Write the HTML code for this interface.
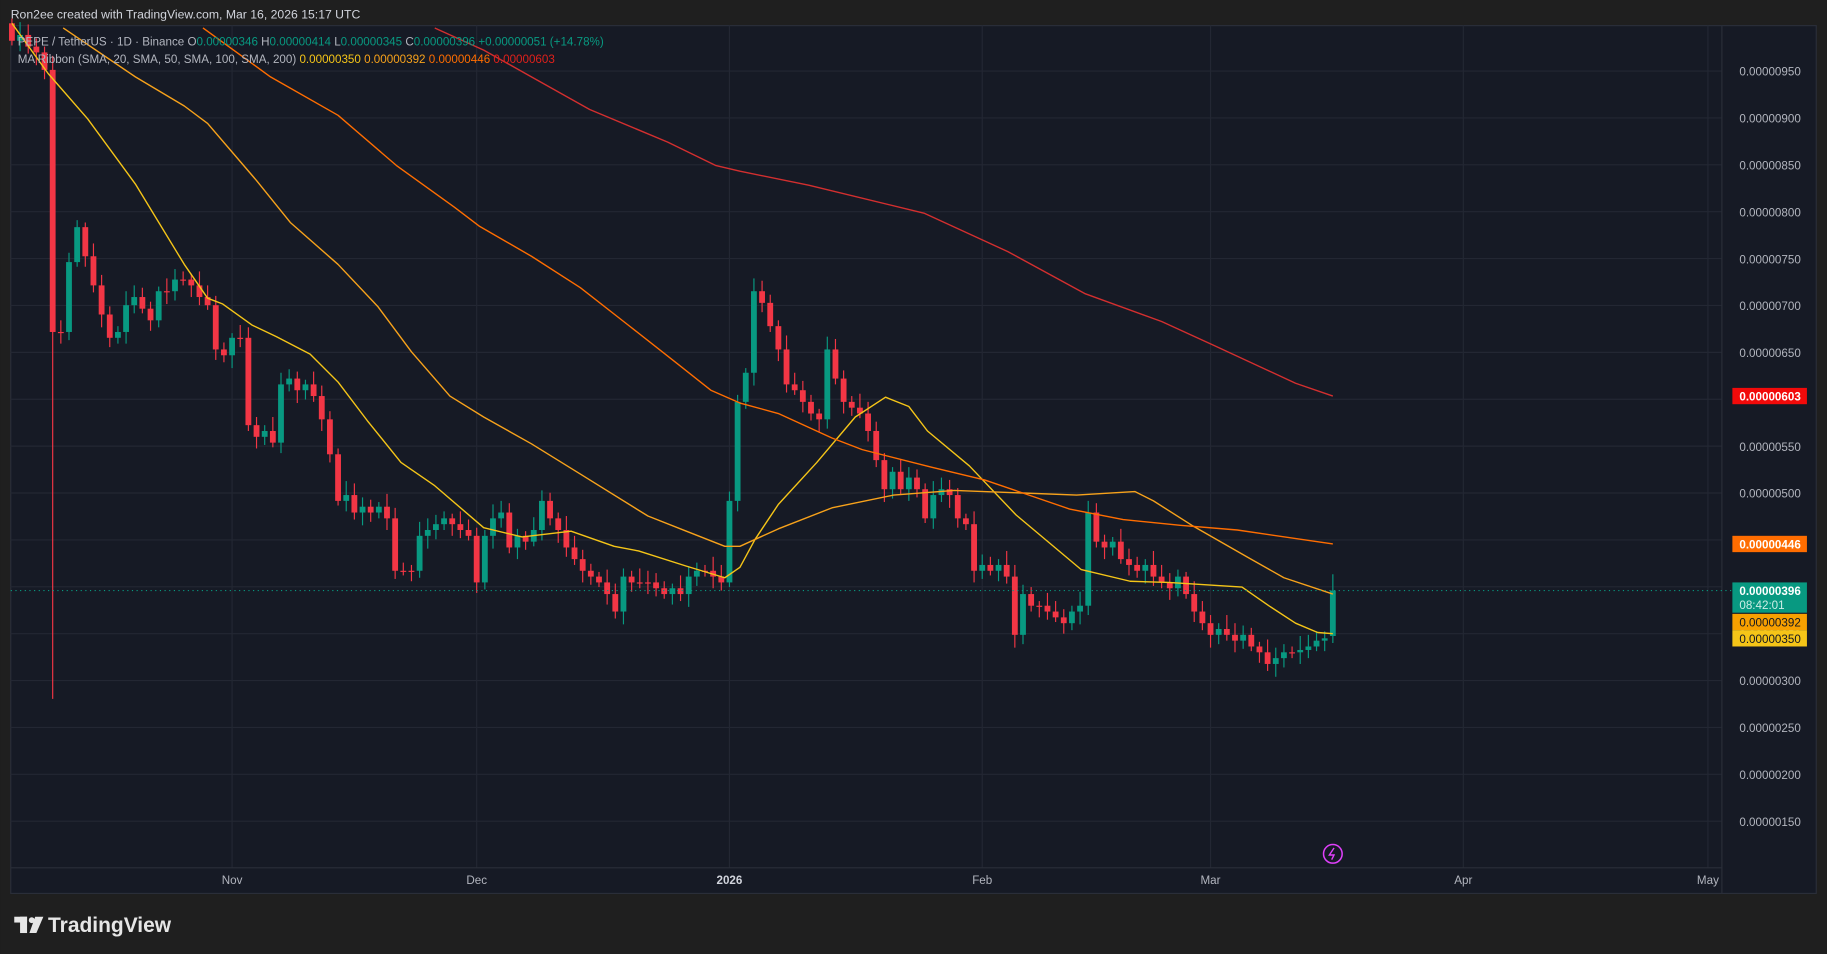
<!DOCTYPE html>
<html><head><meta charset="utf-8">
<style>
html,body{margin:0;padding:0;background:#1f1f1f;}
svg{display:block;font-family:"Liberation Sans",sans-serif;}
</style></head>
<body>
<svg id="s" width="1827" height="954" viewBox="0 0 1568 819" xmlns="http://www.w3.org/2000/svg">
<rect x="0" y="0" width="1568" height="819" fill="#1f1f1f"/>
<rect x="9" y="22" width="1550" height="745" fill="#161a25" stroke="#2a2e39" stroke-width="1"/>
<g id="grid" stroke="#232733" stroke-width="1"></g>
<line x1="1478" y1="22" x2="1478" y2="767" stroke="#2a2e39"/>
<line x1="9" y1="745" x2="1478" y2="745" stroke="#2a2e39"/>
<g id="candles"></g>
<g id="mas" fill="none" stroke-width="1.2" stroke-linejoin="round"></g>
<line x1="9" y1="507" x2="1486" y2="507" stroke="#089981" stroke-dasharray="1,3"/>
<text x="9" y="16" fill="#d1d4dc" font-size="10.5">Ron2ee created with TradingView.com, Mar 16, 2026 15:17 UTC</text>
<text x="15" y="39" font-size="10" fill="#b2b5be">PEPE / TetherUS · 1D · Binance  <tspan fill="#b2b5be">O</tspan><tspan fill="#089981">0.00000346</tspan><tspan fill="#b2b5be">  H</tspan><tspan fill="#089981">0.00000414</tspan><tspan fill="#b2b5be">  L</tspan><tspan fill="#089981">0.00000345</tspan><tspan fill="#b2b5be">  C</tspan><tspan fill="#089981">0.00000396  +0.00000051 (+14.78%)</tspan></text>
<text x="15" y="54" font-size="10" fill="#b2b5be">MA Ribbon (SMA, 20, SMA, 50, SMA, 100, SMA, 200)  <tspan fill="#f5c518">0.00000350</tspan>  <tspan fill="#f7a21b">0.00000392</tspan>  <tspan fill="#ff6d00">0.00000446</tspan>  <tspan fill="#e0201b">0.00000603</tspan></text>
<g id="ylab" font-size="10" fill="#b2b5be"></g>
<g font-size="10" fill="#b2b5be" text-anchor="middle">
<text x="199" y="759">Nov</text><text x="409" y="759">Dec</text><text x="626" y="759" font-weight="bold" fill="#d1d4dc">2026</text><text x="843" y="759">Feb</text><text x="1039" y="759">Mar</text><text x="1256" y="759">Apr</text><text x="1466" y="759">May</text>
</g>
<g font-size="10" font-weight="bold">
<rect x="1487" y="333" width="64" height="14" fill="#f20a0a"/><text x="1493" y="344" fill="#fff">0.00000603</text>
<rect x="1487" y="460" width="64" height="14" fill="#ff6d00"/><text x="1493" y="471" fill="#fff">0.00000446</text>
<rect x="1487" y="500" width="64" height="26" fill="#089981"/><text x="1493" y="511" fill="#fff">0.00000396</text><text x="1493" y="523" fill="#cdeee6" font-weight="normal">08:42:01</text>
<rect x="1487" y="527" width="64" height="14" fill="#f7a000"/><text x="1493" y="538" fill="#131722" font-weight="normal">0.00000392</text>
<rect x="1487" y="541" width="64" height="14" fill="#f5c518"/><text x="1493" y="552" fill="#131722" font-weight="normal">0.00000350</text>
</g>
<circle cx="1144" cy="733" r="8" fill="none" stroke="#e040fb" stroke-width="1.3"/>
<path d="M1145 728 L1141 734 L1145 734 L1143 738" fill="none" stroke="#e040fb" stroke-width="1.2"/>
<g fill="#e6e6e6"><rect x="12" y="787" width="11" height="5"/><rect x="17" y="787" width="6" height="14"/><circle cx="27" cy="790" r="2.5"/><path d="M30 787 L37 787 L31 801 L25 801 Z"/></g>
<text x="41" y="800" font-size="18" font-weight="bold" fill="#e6e6e6">TradingView</text>
</svg>
<script>
const NS="http://www.w3.org/2000/svg";
function el(p,t,a){const e=document.createElementNS(NS,t);for(const k in a)e.setAttribute(k,a[k]);p.appendChild(e);return e;}
const grid=document.getElementById('grid'),yl=document.getElementById('ylab');
for(let i=0;i<17;i++){const y=61+i*40.25;el(grid,'line',{x1:9,x2:1478,y1:y,y2:y});
const p=950-i*50;const t=el(yl,'text',{x:1493,y:y+4});t.textContent='0.00000'+String(p).padStart(3,'0');}
[199,409,626,843,1039,1256,1466].forEach(x=>el(grid,'line',{x1:x,x2:x,y1:22,y2:745}));
const ys=[35,30,40,45,60,285,285,225,195,220,245,270,290,285,262,255,265,275,250,250,240,240,245,255,262,300,305,290,290,365,375,370,380,330,325,335,330,340,360,390,430,425,440,435,440,435,445,490,490,490,460,455,450,445,450,455,460,500,460,445,440,470,460,465,455,430,445,455,470,480,490,495,500,510,525,495,500,500,500,505,510,505,510,495,490,490,495,500,430,345,320,250,260,280,300,330,335,345,355,360,300,325,345,350,355,370,395,420,405,420,410,420,445,425,420,425,445,450,490,485,490,485,495,545,510,520,520,525,530,535,525,520,440,465,470,465,480,485,490,485,495,500,505,495,510,525,535,545,540,545,550,545,555,560,570,565,560,560,558,555,550,548,507];
const cg=document.getElementById('candles');
const N=ys.length;
let prev=20;
ys.forEach((c,i)=>{let x=10+i*(1134/(N-1));
let o=prev; if(i===N-1)o=546;
const up=c<o,col=up?'#089981':'#f23645';
const top=Math.min(o,c),bot=Math.max(o,c);
let wt=top-4-((i*7)%9),wb=bot+4+((i*5)%8);
if(i===5)wb=600; if(i===N-1)wt=493;
el(cg,'line',{x1:x,x2:x,y1:wt,y2:wb,stroke:col,'stroke-width':1});
el(cg,'rect',{x:x-2.5,y:top,width:5,height:Math.max(1,bot-top),fill:col});
prev=c;});
const mas=document.getElementById('mas');
const L=[
['#f5c518',[[10,20],[41,63],[75,102],[116,158],[158,227],[178,256],[191,261],[216,279],[237,289],[266,304],[290,328],[315,361],[344,397],[373,417],[415,453],[448,461],[490,456],[527,469],[548,473],[589,486],[622,496],[635,487],[648,463],[668,433],[701,397],[734,358],[760,341],[780,349],[796,370],[832,400],[872,442],[928,489],[970,499],[1003,500],[1066,504],[1089,520],[1112,535],[1131,543],[1144,544]]],
['#f7a21b',[[54,24],[116,66],[158,91],[178,106],[220,155],[249,191],[290,227],[324,263],[353,302],[386,340],[415,358],[456,381],[498,407],[556,443],[589,456],[622,469],[635,469],[668,454],[714,436],[767,425],[819,421],[924,425],[974,422],[990,430],[1023,451],[1072,479],[1102,496],[1144,510]]],
['#ff6d00',[[174,24],[232,66],[290,99],[340,142],[390,178],[411,194],[456,220],[498,247],[539,279],[581,312],[610,335],[635,346],[668,355],[714,376],[740,386],[799,401],[845,412],[918,437],[964,446],[1013,451],[1062,455],[1144,467]]],
['#d32f2f',[[373,24],[415,43],[456,66],[506,94],[573,122],[614,142],[635,147],[694,159],[793,183],[865,216],[931,252],[997,276],[1043,297],[1112,329],[1144,340]]]];
L.forEach(([c,pts])=>el(mas,'polyline',{stroke:c,points:pts.map(p=>p.join(',')).join(' ')}));
</script>
</body></html>
